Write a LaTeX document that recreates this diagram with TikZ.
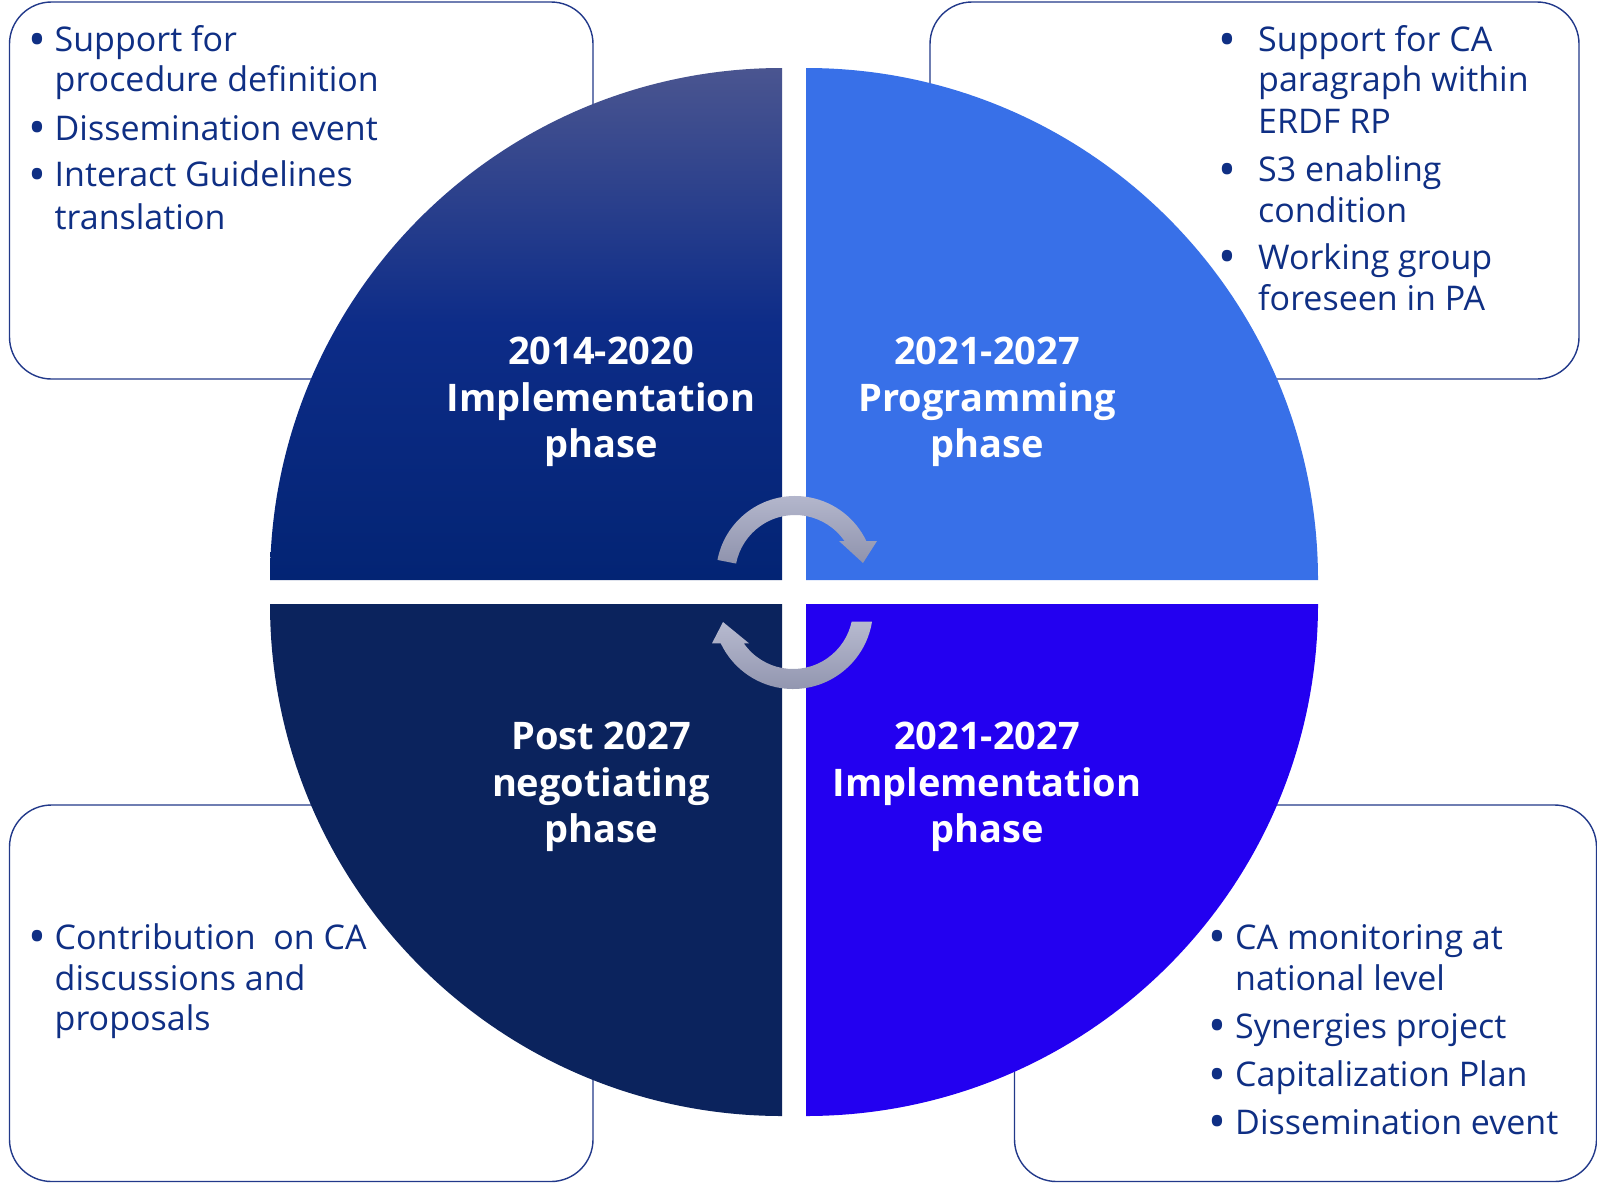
\documentclass[tikz,border=0pt]{standalone}
\usepackage{fontspec}
\setmainfont{Open Sans}
\definecolor{boxline}{HTML}{22398A}
\definecolor{txt}{HTML}{0F2F84}
\definecolor{qtltop}{HTML}{4A5590}
\definecolor{qtlmid}{HTML}{0D2C88}
\definecolor{qtlbot}{HTML}{032474}
\definecolor{qtr}{HTML}{3870E8}
\definecolor{qbl}{HTML}{0B235D}
\definecolor{qbr}{HTML}{2300F0}
\definecolor{arrtop}{HTML}{B7BACF}
\definecolor{arrbot}{HTML}{8F93AD}
\newcommand\bul[1][8.5pt]{\llap{\raisebox{-4.5pt}{\scalebox{1.4}{\textbullet}}\hspace{#1}}}
\tikzset{
  infobox/.style={draw=boxline, line width=1.4pt, rounded corners=42pt},
  bodyline/.style={anchor=base west, inner sep=0pt, text=txt, font=\fontsize{34}{41}\selectfont},
  phasetitle/.style={align=center, inner sep=0pt, text=white, font=\fontsize{38}{46.5}\selectfont\bfseries},
  cyclearrow/.style={top color=arrtop, bottom color=arrbot, draw=none}
}
\begin{document}
\begin{tikzpicture}[x=1pt,y=-1pt]
\useasboundingbox (0,0) rectangle (1597,1183);
\fill[white] (0,0) rectangle (1597,1183);
% info boxes
\path[infobox] (9.5,2) rectangle (593,379);
\path[infobox] (930,2) rectangle (1579,379);
\path[infobox] (9.5,805) rectangle (593,1181.5);
\path[infobox] (1014.5,805) rectangle (1596.5,1181.5);
% quadrants
\path[top color=qtltop, bottom color=qtlbot, middle color=qtlmid] (782,580) -- (270,580) arc[start angle=180, end angle=270, radius=512] -- cycle;
\fill[qtr] (806,580) -- (1318,580) arc[start angle=0, end angle=-90, radius=512] -- cycle;
\fill[qbl] (782,604) -- (270,604) arc[start angle=180, end angle=90, radius=512] -- cycle;
\fill[qbr] (806,604) -- (1318,604) arc[start angle=0, end angle=90, radius=512] -- cycle;
% titles
\node[phasetitle] (t1) at (601,402) {2014-2020\\Implementation\\phase};
\node[phasetitle] (t2) at (987,402) {2021-2027\\Programming\\phase};
\node[phasetitle] (t3) at (601,787) {Post 2027\\negotiating\\phase};
\node[phasetitle] (t4) at (987,787) {2021-2027\\Implementation\\phase};
% cycle arrows
\path[cyclearrow] ([shift={(-169:79)}]795,575) arc[start angle=-169, end angle=-25.5, radius=79]
  -- (877,541) -- (863,563) -- (839,541) -- ([shift={(-34.5:60)}]795,575)
  arc[start angle=-34.5, end angle=-169, radius=60] -- cycle;
\path[cyclearrow] ([shift={(9.1:80)}]793,609) arc[start angle=9.1, end angle=154.6, radius=80]
  -- (712,643.3) -- (723,622) -- (749,643.3) -- ([shift={(145.1:60)}]793,609)
  arc[start angle=145.1, end angle=12.2, radius=60] -- cycle;
% top-left box text
\node[bodyline] (a1) at (54.5,51.7) {\bul Support for};
\node[bodyline] (a2) at (54.5,91.7) {procedure definition};
\node[bodyline] (a3) at (54.5,140) {\bul Dissemination event};
\node[bodyline] (a4) at (54.5,186.7) {\bul Interact Guidelines};
\node[bodyline] (a5) at (54.5,229.3) {translation};
% top-right box text
\node[bodyline] (b1) at (1258,51.7) {\bul[22pt]Support for CA};
\node[bodyline] (b2) at (1258,91.7) {paragraph within};
\node[bodyline] (b3) at (1258,133.3) {ERDF RP};
\node[bodyline] (b4) at (1258,181.7) {\bul[22pt]S3 enabling};
\node[bodyline] (b5) at (1258,222.7) {condition};
\node[bodyline] (b6) at (1258,269.3) {\bul[22pt]Working group};
\node[bodyline] (b7) at (1258,310.7) {foreseen in PA};
% bottom-left box text
\node[bodyline] (c1) at (54.5,949.3) {\bul Contribution\ \ on CA};
\node[bodyline] (c2) at (54.5,990.7) {discussions and};
\node[bodyline] (c3) at (54.5,1030.7) {proposals};
% bottom-right box text
\node[bodyline] (d1) at (1235,949.3) {\bul CA monitoring at};
\node[bodyline] (d2) at (1235,990.7) {national level};
\node[bodyline] (d3) at (1235,1038.3) {\bul Synergies project};
\node[bodyline] (d4) at (1235,1086.7) {\bul Capitalization Plan};
\node[bodyline] (d5) at (1235,1134) {\bul Dissemination event};
\end{tikzpicture}
\end{document}
